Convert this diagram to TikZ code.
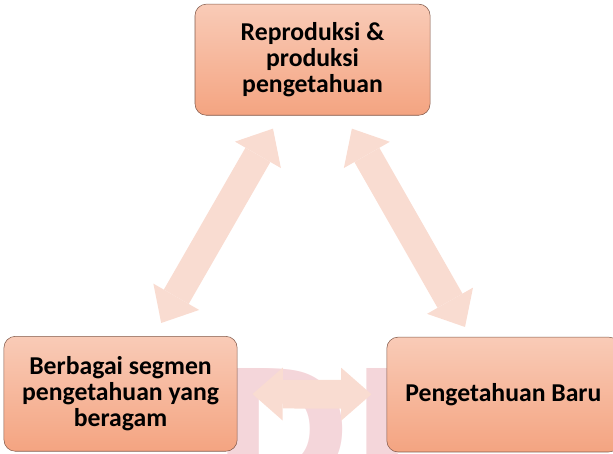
\documentclass[tikz,border=0pt]{standalone}
\usepackage{fontspec}
\setmainfont{Carlito}
\newfontfamily\markfont{DejaVu Sans}
\usepackage{xcolor}
\usepackage{tikz}
\usetikzlibrary{arrows.meta}
\definecolor{boxtop}{RGB}{249,203,183}
\definecolor{boxbottom}{RGB}{244,164,129}
\definecolor{boxedge}{RGB}{130,90,75}
\definecolor{flowpeach}{RGB}{249,220,209}
\definecolor{markpink}{RGB}{244,214,218}

\begin{document}
\begin{tikzpicture}[every node/.style={font=\bfseries\fontsize{19.35}{19.5}\selectfont, align=center},
    stage/.style={draw=boxedge, thin, rounded corners=0.3cm, top color=boxtop, bottom color=boxbottom},
    flow/.style={draw=flowpeach, line width=0.76cm, shorten <=0.4cm, shorten >=0.4cm,
        {Triangle[length=0.8cm, width=1.4cm, line width=0pt]}-{Triangle[length=0.8cm, width=1.4cm, line width=0pt]}}]
    \useasboundingbox (0,0) rectangle (16.22,11.99);
    \node[anchor=base west, inner sep=0pt, text=markpink, font=\markfont\bfseries\fontsize{126}{126}\selectfont] (mark) at (5.62,-0.98) {DI};
    \node[stage, minimum width=6.22cm, minimum height=2.94cm] (top) at (8.27,10.41) {Reproduksi \&\\produksi\\pengetahuan};
    \node[stage, minimum width=6.17cm, minimum height=3.04cm] (left) at (3.19,1.57) {Berbagai segmen\\pengetahuan yang\\beragam};
    \node[stage, minimum width=6.17cm, minimum height=3.04cm] (right) at (13.32,1.55) {Pengetahuan Baru};
    \draw[flow] (left) -- (top);
    \draw[flow, shorten >=0.3cm] (top) -- (right);
    \draw[flow] (left) -- (right);
\end{tikzpicture}
\end{document}
